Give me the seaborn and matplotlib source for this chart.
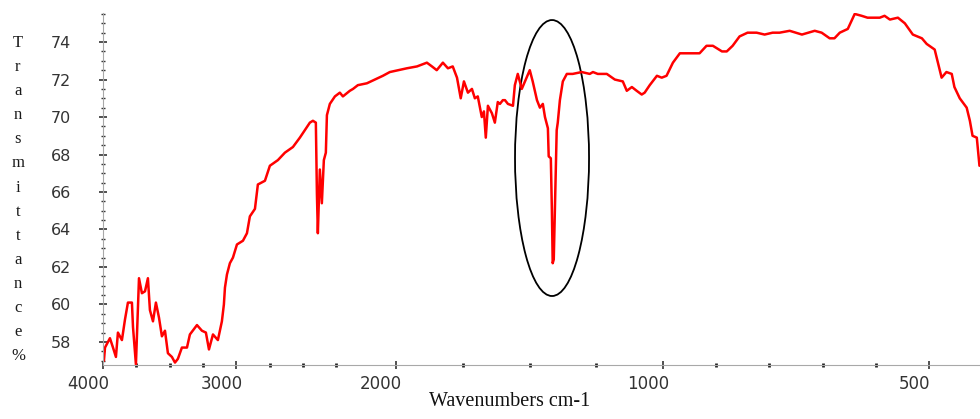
import numpy as np
import matplotlib
matplotlib.use("Agg")
import matplotlib.pyplot as plt
import matplotlib.transforms as mtransforms
from matplotlib.patches import Ellipse
from matplotlib.ticker import MultipleLocator
import pandas as pd
import seaborn as sns

# FTIR spectrum (wavenumber in cm-1, transmittance in %)
wavenumber = [
    3993, 3985, 3948, 3925, 3903, 3888, 3858, 3835, 3813, 3783,
    3775, 3753, 3738, 3730, 3708, 3685, 3663, 3648, 3625, 3603,
    3580, 3558, 3535, 3513, 3483, 3460, 3438, 3408, 3370, 3348,
    3295, 3258, 3228, 3205, 3175, 3138, 3108, 3093, 3085, 3070,
    3048, 3025, 2995, 2950, 2920, 2898, 2860, 2838, 2785, 2748,
    2688, 2635, 2575, 2523, 2485, 2448, 2425, 2403, 2395, 2388,
    2373, 2358, 2343, 2328, 2320, 2298, 2260, 2223, 2200, 2174,
    2162, 2144, 2110, 2050, 2024, 1960, 1922, 1885, 1866, 1848,
    1825, 1806, 1788, 1772, 1758, 1746, 1731, 1716, 1705, 1694,
    1679, 1671, 1664, 1656, 1641, 1630, 1619, 1611, 1600, 1592,
    1581, 1562, 1555, 1544, 1529, 1514, 1499, 1488, 1472, 1461,
    1450, 1442, 1431, 1428, 1420, 1416, 1413, 1409, 1405, 1401,
    1398, 1394, 1386, 1375, 1360, 1338, 1304, 1274, 1262, 1244,
    1210, 1180, 1150, 1135, 1116, 1098, 1079, 1068, 1049, 1022,
    1004, 993, 981, 968, 931, 918, 906, 889, 880, 869,
    856, 841, 824, 809, 794, 781, 762, 739, 715, 702,
    687, 678, 668, 653, 640, 627, 616, 593, 584, 574,
    559, 546, 531, 514, 505, 490, 484, 477, 468, 458,
    453, 443, 430, 424, 419, 411, 406,
]
transmittance = [
    57.0, 57.7, 58.2, 57.7, 57.2, 58.5, 58.1, 59.2, 60.1, 60.1,
    58.8, 56.8, 59.7, 61.4, 60.6, 60.7, 61.4, 59.7, 59.1, 60.1,
    59.3, 58.3, 58.6, 57.4, 57.2, 56.9, 57.1, 57.7, 57.7, 58.4,
    58.9, 58.6, 58.5, 57.6, 58.4, 58.1, 59.1, 60.0, 60.9, 61.6,
    62.2, 62.5, 63.2, 63.4, 63.8, 64.7, 65.1, 66.4, 66.6, 67.4,
    67.7, 68.1, 68.4, 68.9, 69.3, 69.7, 69.8, 69.7, 65.9, 63.8,
    67.2, 65.4, 67.7, 68.1, 70.1, 70.7, 71.1, 71.3, 71.1, 71.4,
    71.5, 71.7, 71.8, 72.2, 72.4, 72.6, 72.7, 72.9, 72.7, 72.5,
    72.9, 72.6, 72.7, 72.1, 71.0, 71.9, 71.3, 71.5, 71.0, 71.1,
    70.0, 70.3, 68.9, 70.6, 70.2, 69.7, 70.8, 70.7, 70.9, 70.9,
    70.7, 70.6, 71.7, 72.3, 71.5, 72.0, 72.5, 71.9, 70.9, 70.5,
    70.7, 70.0, 69.4, 67.9, 67.8, 65.0, 62.2, 62.4, 65.0, 67.5,
    69.3, 69.7, 70.9, 71.9, 72.3, 72.3, 72.4, 72.3, 72.4, 72.3,
    72.3, 72.0, 71.9, 71.4, 71.6, 71.4, 71.2, 71.3, 71.7, 72.2,
    72.1, 72.2, 72.9, 73.4, 73.4, 73.8, 73.8, 73.5, 73.5, 73.8,
    74.3, 74.5, 74.5, 74.4, 74.5, 74.5, 74.6, 74.4, 74.6, 74.5,
    74.2, 74.2, 74.5, 74.7, 75.5, 75.4, 75.3, 75.3, 75.4, 75.2,
    75.3, 75.0, 74.4, 74.2, 73.9, 73.6, 72.9, 72.1, 72.4, 72.3,
    71.6, 71.0, 70.5, 69.8, 69.0, 68.9, 67.4,
]
x_major = [4000, 3000, 2000, 1000, 500]
x_minor = [3750, 3500, 3250, 2750, 2500, 2250, 1750, 1500, 1250,
           900, 800, 700, 600]
y_major = [58, 60, 62, 64, 66, 68, 70, 72, 74]


# Piecewise-linear wavenumber axis: 1x above 2200, 2x from 2200 to 1000,
# 4x below 1000 cm-1 (returned increasing with wavenumber)
def forward(w):
    w = np.asarray(w, dtype=float)
    u = np.where(w >= 2200, 4000 - w,
                 np.where(w >= 1000, 1800 + 2 * (2200 - w),
                          4200 + 4 * (1000 - w)))
    return -u


def inverse(v):
    u = -np.asarray(v, dtype=float)
    return np.where(u <= 1800, 4000 - u,
                    np.where(u <= 4200, 2200 - (u - 1800) / 2,
                             1000 - (u - 4200) / 4))


sns.set_style("white")
plt.rcParams["font.family"] = ["DejaVu Sans"]

W, H = 980, 419
fig = plt.figure(figsize=(W / 100, H / 100), dpi=100)
ax = fig.add_axes([103 / W, 1 - 365 / H, 877 / W, 352 / H])

df = pd.DataFrame({"Wavenumber": wavenumber, "Transmittance": transmittance})
sns.lineplot(data=df, x="Wavenumber", y="Transmittance", ax=ax,
             color="#ff0000", linewidth=1.8, estimator=None, sort=False)

ax.set_xscale("function", functions=(forward, inverse))
ax.set_xlim(4000, 405)
ax.set_ylim(56.77, 75.55)

ax.set_xticks(x_major)
ax.set_xticklabels([str(v) for v in x_major])
ax.set_xticks(x_minor, minor=True)
ax.set_yticks(y_major)
ax.set_yticklabels([str(v) for v in y_major])
ax.yaxis.set_minor_locator(MultipleLocator(0.5))

for side in ("top", "right"):
    ax.spines[side].set_visible(False)
for side in ("left", "bottom"):
    ax.spines[side].set_color("#a8a8a8")
    ax.spines[side].set_linewidth(0.8)

ax.tick_params(which="both", bottom=True, left=True, top=False, right=False)
ax.tick_params(axis="x", which="major", direction="inout", length=6, width=1.1,
               color="#222222", labelsize=12, labelcolor="#333333", pad=4)
ax.tick_params(axis="x", which="minor", direction="inout", length=2.5, width=2,
               color="#222222")
ax.tick_params(axis="y", which="major", direction="inout", length=6, width=1.1,
               color="#222222", labelsize=11.5, labelcolor="#333333", pad=20)
ax.tick_params(axis="y", which="minor", direction="inout", length=3.5, width=1,
               color="#333333")

# tick labels sit slightly left of their ticks
shift = mtransforms.ScaledTranslation(-0.15, 0, fig.dpi_scale_trans)
for lab in ax.get_xticklabels():
    lab.set_transform(lab.get_transform() + shift)

ax.set_xlabel("Wavenumbers cm-1", fontfamily="Liberation Serif",
              fontsize=14.5, color="#111111", va="center")
ax.xaxis.set_label_coords(0.464, -0.105)

ax.set_ylabel("\n".join("Transmittance%"), rotation=0, ha="center",
              va="center", fontfamily="Liberation Serif", fontsize=12,
              color="#1a1a1a", linespacing=1.67)
ax.yaxis.set_label_coords(-0.097, 0.470)

# highlight of the sharp band near 1384 cm-1
ax.add_patch(Ellipse((0.512, 0.588), 0.0844, 0.784, transform=ax.transAxes,
                     fill=False, edgecolor="black", linewidth=1.3,
                     clip_on=False))

fig.savefig("out.png", dpi=100)
